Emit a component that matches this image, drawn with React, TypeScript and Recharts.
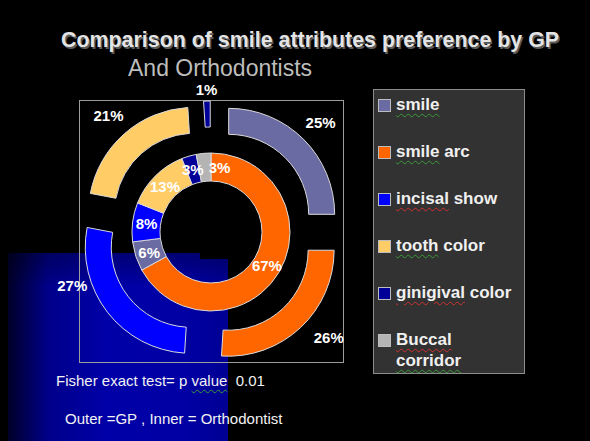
import React from 'react';
import { PieChart, Pie, Cell } from 'recharts';

// ---- data ----
const categories = ['smile', 'smile arc', 'incisal show', 'tooth color', 'ginigival color', 'Buccal corridor'];
const gpValues = [25, 26, 27, 21, 1, 0]; // outer ring = GP
const orthoCategories = ['smile arc', 'smile', 'incisal show', 'tooth color', 'ginigival color', 'Buccal corridor'];
const orthoValues = [67, 6, 8, 13, 3, 3]; // inner ring = Orthodontist

const titleText = 'Comparison of smile attributes preference by GP';
const subtitleText = 'And Orthodontists';
const footer1 = 'Fisher exact test= p value  0.01';
const footer2 = 'Outer =GP , Inner = Orthodontist';

// ---- styles ----
const colorOf: Record<string, string> = {
  smile: '#6B6BA3',
  'smile arc': '#FF6600',
  'incisal show': '#0000FF',
  'tooth color': '#FFCC66',
  'ginigival color': '#000099',
  'Buccal corridor': '#B4B4B4',
};
const spellMarks: Record<string, string> = {
  smile: '#3a9a3a',
  incisal: '#d03030',
  tooth: '#3a9a3a',
  ginigival: '#d03030',
  Buccal: '#d03030',
  corridor: '#3a9a3a',
  value: '#3a9a3a',
  GP: '#3a9a3a',
};
// label placement tweaks (degrees clockwise / px)
const outerLabelNudge: Record<string, { da: number; dr: number }> = {
  'incisal show': { da: 20, dr: -5 },
  'smile arc': { da: -6, dr: 3 },
  'ginigival color': { da: 0, dr: -12 },
};
const innerLabelNudge: Record<string, number> = { 'Buccal corridor': 13 };

const FONT = '"Liberation Sans", Arial, Helvetica, sans-serif';
const CX = 211;
const CY = 232;
const EXPLODE = 25;
const RAD = Math.PI / 180;

const gpData = categories.map((name, i) => ({ name, value: gpValues[i] }));
const orthoData = orthoCategories.map((name, i) => ({ name, value: orthoValues[i] }));
const gpTotal = gpValues.reduce((a, b) => a + b, 0);

function midClockwise(k: number) {
  let before = 0;
  for (let i = 0; i < k; i++) before += gpValues[i];
  return ((before + gpValues[k] / 2) / gpTotal) * 360;
}

function Marked({ text }: { text: string }) {
  const parts = text.split(/(\s+)/);
  return (
    <>
      {parts.map((p, i) =>
        spellMarks[p] ? (
          <span
            key={i}
            style={{
              textDecorationLine: 'underline',
              textDecorationStyle: 'wavy',
              textDecorationColor: spellMarks[p],
              textDecorationThickness: '1px',
              textUnderlineOffset: '3px',
            }}
          >
            {p}
          </span>
        ) : (
          <span key={i}>{p}</span>
        )
      )}
    </>
  );
}

const labelStyle = {
  fill: '#FFFFFF',
  fontFamily: FONT,
  fontWeight: 700,
  fontSize: 15,
} as const;

function makeOuterLabel(k: number) {
  return (props: any) => {
    if (props.index !== k) return null;
    const nudge = outerLabelNudge[categories[k]] || { da: 0, dr: 0 };
    const ang = (props.midAngle - nudge.da) * RAD;
    const r = props.outerRadius + 24 + nudge.dr;
    const x = props.cx + r * Math.cos(ang);
    const y = props.cy - r * Math.sin(ang);
    return (
      <text x={x} y={y} textAnchor="middle" dominantBaseline="central" style={labelStyle}>
        {`${gpValues[k]}%`}
      </text>
    );
  };
}

function innerLabel(props: any) {
  const name = orthoCategories[props.index];
  const da = innerLabelNudge[name] || 0;
  const ang = (props.midAngle - da) * RAD;
  const r = (props.innerRadius + props.outerRadius) / 2;
  const x = props.cx + r * Math.cos(ang);
  const y = props.cy - r * Math.sin(ang);
  return (
    <text x={x} y={y} textAnchor="middle" dominantBaseline="central" style={labelStyle}>
      {`${orthoValues[props.index]}%`}
    </text>
  );
}

export default function App() {
  return (
    <div
      style={{
        position: 'fixed',
        left: 0,
        top: 0,
        width: 590,
        height: 441,
        background: '#000',
        overflow: 'hidden',
        fontFamily: FONT,
      }}
    >
      {/* blue slide decoration */}
      <div
        style={{
          position: 'absolute',
          left: 8,
          top: 253,
          width: 220,
          height: 188,
          clipPath: 'polygon(0 0, 192px 0, 192px 6px, 220px 6px, 220px 100%, 0 100%)',
          background:
            'linear-gradient(180deg, rgba(0,0,0,0.3) 0%, rgba(0,0,0,0) 18%), linear-gradient(90deg, #000028 0%, #00008a 18%, #0000a8 45%, #0000a4 80%, #000094 100%)',
        }}
      />
      {/* plot area frame */}
      <div
        style={{
          position: 'absolute',
          left: 79,
          top: 100,
          width: 263,
          height: 261,
          border: '1px solid #9C9C9C',
        }}
      />
      {/* texts */}
      <svg width={590} height={441} style={{ position: 'absolute', left: 0, top: 0 }}>
        <text x={62.5} y={48.5} style={{ fontFamily: FONT, fontWeight: 700, fontSize: 21.4, fill: '#5a5a5a' }}>
          {titleText}
        </text>
        <text x={61} y={47} style={{ fontFamily: FONT, fontWeight: 700, fontSize: 21.4, fill: '#E4E4E4' }}>
          {titleText}
        </text>
        <text x={128} y={76} style={{ fontFamily: FONT, fontSize: 23, fill: '#BDBDBD' }}>
          {subtitleText}
        </text>
      </svg>
      <div
        style={{
          position: 'absolute',
          left: 56,
          top: 372,
          fontSize: 15,
          color: '#F2F2F2',
          whiteSpace: 'pre',
          lineHeight: '18px',
        }}
      >
        <Marked text={footer1} />
      </div>
      <div
        style={{
          position: 'absolute',
          left: 65,
          top: 410,
          fontSize: 15,
          color: '#F2F2F2',
          whiteSpace: 'pre',
          lineHeight: '18px',
        }}
      >
        <Marked text={footer2} />
      </div>

      {/* chart */}
      <div style={{ position: 'absolute', left: 0, top: 0 }}>
        <PieChart width={590} height={441} margin={{ top: 0, right: 0, bottom: 0, left: 0 }}>
          <Pie
            data={orthoData}
            dataKey="value"
            nameKey="name"
            cx={CX}
            cy={CY}
            innerRadius={51}
            outerRadius={79}
            startAngle={90}
            endAngle={-270}
            stroke="#DADADA"
            strokeWidth={1}
            label={innerLabel}
            labelLine={false}
            isAnimationActive={false}
          >
            {orthoData.map((d) => (
              <Cell key={d.name} fill={colorOf[d.name]} />
            ))}
          </Pie>
          {gpData.map((seg, k) => {
            if (seg.value <= 0) return null;
            const m = midClockwise(k) * RAD;
            return (
              <Pie
                key={seg.name}
                data={gpData}
                dataKey="value"
                nameKey="name"
                cx={CX + EXPLODE * Math.sin(m)}
                cy={CY - EXPLODE * Math.cos(m)}
                innerRadius={80}
                outerRadius={106}
                startAngle={90}
                endAngle={-270}
                label={makeOuterLabel(k)}
                labelLine={false}
                isAnimationActive={false}
              >
                {gpData.map((d, i) => (
                  <Cell
                    key={d.name}
                    fill={i === k ? colorOf[d.name] : 'transparent'}
                    stroke={i === k ? '#DADADA' : 'none'}
                    strokeWidth={1}
                  />
                ))}
              </Pie>
            );
          })}
        </PieChart>
      </div>

      {/* legend */}
      <div
        style={{
          position: 'absolute',
          left: 373,
          top: 89,
          width: 150,
          height: 283,
          background: '#323232',
          border: '1px solid #8C8C8C',
        }}
      >
        {categories.map((c, i) => (
          <div
            key={c}
            style={{
              position: 'absolute',
              left: 4,
              top: 4 + i * 47,
              display: 'flex',
              alignItems: 'flex-start',
            }}
          >
            <div
              style={{
                width: 11,
                height: 11,
                marginTop: 5,
                background: colorOf[c],
                border: '1px solid #BDBDBD',
                flex: '0 0 auto',
              }}
            />
            <div
              style={{
                marginLeft: 5,
                width: 120,
                fontSize: 17,
                fontWeight: 700,
                lineHeight: '21px',
                color: '#F0F0F0',
              }}
            >
              <Marked text={c} />
            </div>
          </div>
        ))}
      </div>
    </div>
  );
}
